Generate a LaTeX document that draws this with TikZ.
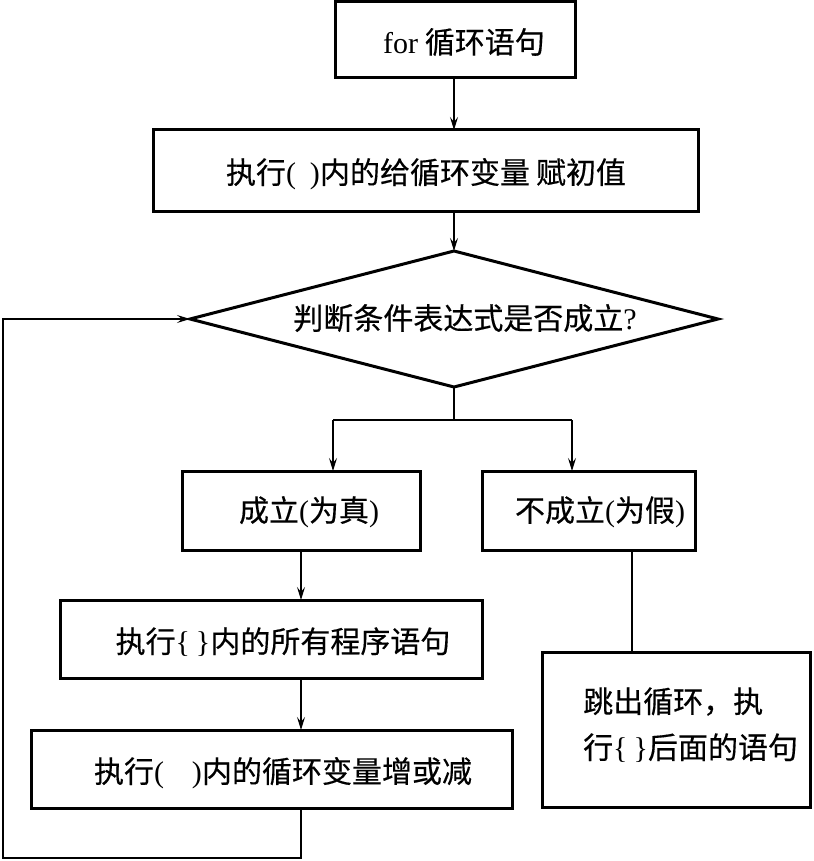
\documentclass[tikz,border=0pt]{standalone}
\usepackage{fontspec}
\setmainfont{Liberation Serif}
\newfontfamily\cjk[FakeBold=0.4]{Noto Sans CJK SC}
\usetikzlibrary{shapes.geometric,arrows.meta}
\newcommand\latn[1]{{\rmfamily #1}}
\tikzset{
  box/.style={draw, line width=3pt, inner sep=0pt, outer sep=0pt},
  decide/.style={draw, diamond, line width=3pt, inner sep=0pt, outer sep=0pt},
  txt/.style={font=\cjk\fontsize{30}{36}\selectfont, inner sep=0pt},
  conn/.style={line width=1.4pt},
  link/.style={line width=2.2pt},
  arr/.style={line width=1.4pt, -{Stealth[length=13pt,width=8pt,inset=5pt]}}
}
\begin{document}
\begin{tikzpicture}[x=1pt,y=-1pt]
\useasboundingbox (0,0) rectangle (813,861);
% boxes
\node[box, minimum width=240pt, minimum height=76pt] (b1) at (455,40) {};
\node[box, minimum width=545pt, minimum height=81pt] (b2) at (425.5,170.5) {};
\node[decide, minimum width=528pt, minimum height=136pt] (d) at (454,319) {};
\node[box, minimum width=238pt, minimum height=79pt] (b3) at (301,510.5) {};
\node[box, minimum width=213pt, minimum height=79pt] (b4) at (588.5,510.5) {};
\node[box, minimum width=422pt, minimum height=78pt] (b5) at (271,639) {};
\node[box, minimum width=481pt, minimum height=78pt] (b6) at (271.5,769) {};
\node[box, minimum width=268pt, minimum height=155pt] (b7) at (676,729.5) {};
% texts
\node[txt] (t1) at (464,42) {\latn{for} 循环语句};
\node[txt] (t2) at (426,174) {执行\latn{(}\hspace{14pt}\latn{)}内的给循环变量\hspace{6pt}赋初值};
\node[txt] (td) at (465,318) {判断条件表达式是否成立\latn{?}};
\node[txt] (t3) at (309,512) {成立\latn{(}为真\latn{)}};
\node[txt] (t4) at (600,512) {不成立\latn{(}为假\latn{)}};
\node[txt] (t5) at (283,642) {执行\latn{\{\hspace{6pt}\}}内的所有程序语句};
\node[txt] (t6) at (283,773) {执行\latn{(}\hspace{28pt}\latn{)}内的循环变量增或减};
\node[txt, align=left, anchor=west, font=\cjk\fontsize{30}{46}\selectfont] (t7) at (583,725) {跳出循环，执\\行\latn{\{\hspace{6pt}\}}后面的语句};
% helper coordinates
\coordinate (ax) at (301,0);
\coordinate (bl) at (333,420);
\coordinate (brr) at (572,420);
\coordinate (cx) at (632,0);
\coordinate (lp) at (301,858);
\coordinate (lc) at (3,858);
% connectors
\draw[arr] (b1.south -| d.north) -- (b2.north -| d.north);
\draw[arr] (b2.south -| d.north) -- (d.north);
\draw[conn] (d.south) -- (d.south |- bl);
\draw[conn] (bl) -- (brr);
\draw[arr] (bl) -- (bl |- b3.north);
\draw[arr] (brr) -- (brr |- b4.north);
\draw[arr] (b3.south -| ax) -- (b5.north -| ax);
\draw[arr] (b5.south -| ax) -- (b6.north -| ax);
\draw[link] (b4.south -| cx) -- (b7.north -| cx);
\draw[arr] (b6.south -| lp) -- (lp) -- (lc) |- (d.west);
\end{tikzpicture}
\end{document}
